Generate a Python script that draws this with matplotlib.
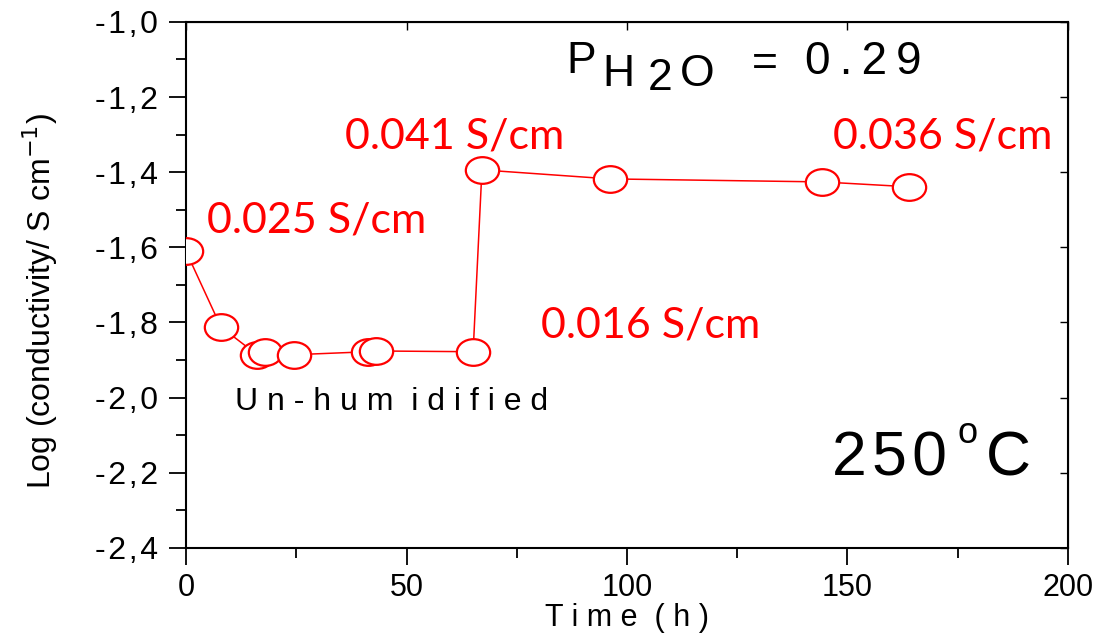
import matplotlib
matplotlib.use("Agg")
import matplotlib.pyplot as plt
from matplotlib.path import Path
from matplotlib.ticker import MultipleLocator, FuncFormatter
import numpy as np

# data
time_h = [0, 7.9, 16.1, 17.9, 24.5, 41.3, 43.0, 65.1, 67.1, 96.1, 144.2, 164.0]
log_cond = [-1.611, -1.812, -1.886, -1.878, -1.886, -1.878, -1.876, -1.878,
            -1.394, -1.418, -1.426, -1.439]

notes = ["0.025 S/cm", "0.041 S/cm", "0.036 S/cm", "0.016 S/cm"]
note_x = [4.8, 36.0, 146.7, 80.5]
note_y = [-1.529, -1.304, -1.304, -1.807]

xticks = [0, 50, 100, 150, 200]
yticks = [-2.4, -2.2, -2.0, -1.8, -1.6, -1.4, -1.2, -1.0]

plt.rcParams['font.family'] = ['Liberation Sans', 'DejaVu Sans']

# slightly flattened circle, like the original markers
circ = Path.unit_circle()
ellipse = Path(circ.vertices * np.array([1.0, 0.8]), circ.codes)


def ylab(v, pos):
    s = ("%.1f" % v).replace('.', ',')
    return '\u200a'.join(s)


fig = plt.figure(figsize=(11.01, 6.43), dpi=100)
ax = fig.add_axes([0.169, 0.148, 0.801, 0.818])

ax.plot(time_h, log_cond, color='red', linewidth=1.1, marker=ellipse,
        markersize=24, markerfacecolor='white', markeredgecolor='red',
        markeredgewidth=1.6, zorder=3)

ax.set_xlim(0, 200)
ax.set_ylim(-2.4, -1.0)
ax.set_xticks(xticks)
ax.set_yticks(yticks)
ax.xaxis.set_minor_locator(MultipleLocator(25))
ax.yaxis.set_minor_locator(MultipleLocator(0.1))
ax.yaxis.set_major_formatter(FuncFormatter(ylab))

for s in ax.spines.values():
    s.set_linewidth(1.5)

ax.tick_params(which='major', direction='out', length=12, width=1.3)
ax.tick_params(which='minor', direction='out', length=7, width=1.3)
ax.tick_params(axis='y', labelsize=23, pad=8)
ax.tick_params(axis='x', labelsize=22, pad=6)

# small inward ticks on top and right
sec_x = ax.secondary_xaxis('top')
sec_x.set_xticks(xticks)
sec_x.tick_params(direction='in', length=6, width=1.0, labeltop=False)
sec_y = ax.secondary_yaxis('right')
sec_y.set_yticks(yticks)
sec_y.tick_params(direction='in', length=6, width=1.0, labelright=False)

ax.set_xlabel("T i m e  ( h )", fontsize=22, labelpad=0)
ax.set_ylabel("Log (conductivity/ S cm$^{-1}$)", fontsize=23)
ax.yaxis.set_label_coords(-0.143, 0.47)

for t, x, y in zip(notes, note_x, note_y):
    ax.text(x, y, t, color='red', fontsize=31, family=['Lato', 'DejaVu Sans'],
            va='center', ha='left')

ax.text(11.1, -2.013, "U n - h u m  i d i f i e d", fontsize=23, va='center', ha='left')
ax.text(146.5, -2.164, "2\u200a5\u200a0", fontsize=45, va='center', ha='left')
ax.text(175.0, -2.095, "o", fontsize=26, va='center', ha='left')
ax.text(181.4, -2.164, "C", fontsize=45, va='center', ha='left')

# P_H2O label
ax.text(86.2, -1.106, "P", fontsize=32, va='center', ha='left')
ax.text(94.5, -1.14, "H", fontsize=32, va='center', ha='left')
ax.text(104.8, -1.15, "2", fontsize=32, va='center', ha='left')
ax.text(112.0, -1.14, "O", fontsize=32, va='center', ha='left')
ax.text(128.3, -1.114, "=", fontsize=32, va='center', ha='left')
ax.text(140.4, -1.106, "0\u2009.\u20092\u20099", fontsize=33, va='center', ha='left')

fig.savefig("out.png", dpi=100)
